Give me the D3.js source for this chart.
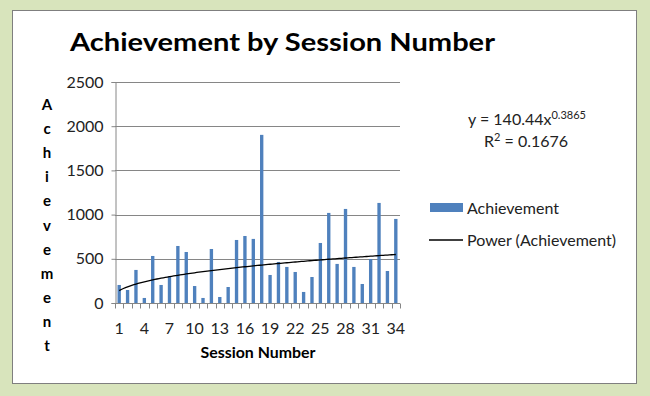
<!DOCTYPE html>
<html>
<head>
<meta charset="utf-8">
<script src="https://cdn.jsdelivr.net/npm/d3@7"></script>
<style>
  body { margin: 0; background: #d8e4bc; }
  svg { display: block; font-family: Lato, "Open Sans", sans-serif; }
</style>
</head>
<body>
<svg id="chart" width="650" height="396"></svg>
<script>
// Chart data
const sessions = d3.range(1, 35);
const achievement = [204, 147, 374, 57, 532, 204, 302, 645, 577, 192,
                     57, 611, 68, 181, 713, 758, 725, 1902, 317, 464,
                     408, 351, 125, 294, 679, 1019, 442, 1064, 408, 215,
                     498, 1132, 362, 951];
const yTicks = [0, 500, 1000, 1500, 2000, 2500];
const xTickLabels = [1, 4, 7, 10, 13, 16, 19, 22, 25, 28, 31, 34];

// Power trendline coefficients (as shown on chart)
const trendA = 140.44;
const trendB = 0.3865;
const rSquared = 0.1676;

const barColor = '#4f81bd';
const margin = { top: 82, right: 250, bottom: 93, left: 115 };
const width = 650, height = 396;

const svg = d3.select('#chart');

// Chart area panel
svg.append('rect')
    .attr('x', 12.5).attr('y', 10.5)
    .attr('width', 624).attr('height', 373)
    .attr('fill', '#fff')
    .attr('stroke', '#7f7f7f')
    .attr('stroke-width', 1);

const x = d3.scaleBand()
    .domain(sessions)
    .range([margin.left, width - margin.right])
    .paddingInner(0.6)
    .paddingOuter(0.3);

const y = d3.scaleLinear()
    .domain([0, 2500])
    .range([height - margin.bottom, margin.top]);

// Gridlines
svg.append('g')
    .selectAll('line')
    .data(yTicks.slice(1))
    .join('line')
    .attr('x1', margin.left).attr('x2', width - margin.right)
    .attr('y1', d => Math.round(y(d)) + 0.5)
    .attr('y2', d => Math.round(y(d)) + 0.5)
    .attr('stroke', '#868686');

// Bars
svg.append('g')
    .selectAll('rect')
    .data(achievement)
    .join('rect')
    .attr('x', (d, i) => x(sessions[i]))
    .attr('width', x.bandwidth())
    .attr('y', d => y(d))
    .attr('height', d => y(0) - y(d))
    .attr('fill', barColor);

// Trendline (power fit evaluated across sessions)
const cx = d => x(1) + x.bandwidth() / 2 + (d - 1) * x.step();
const line = d3.line()
    .x(cx)
    .y(d => y(trendA * Math.pow(d, trendB)));

svg.append('path')
    .datum(d3.range(1, 34.01, 0.25))
    .attr('fill', 'none')
    .attr('stroke', '#000')
    .attr('stroke-width', 1.3)
    .attr('d', line);

// Y axis
const yAxis = d3.axisLeft(y)
    .tickValues(yTicks)
    .tickFormat(d3.format('d'))
    .tickSize(4)
    .tickPadding(8);
const gy = svg.append('g')
    .attr('transform', `translate(${margin.left + 0.5},0)`)
    .call(yAxis);
gy.select('.domain').attr('stroke', '#868686');
gy.selectAll('.tick line').attr('stroke', '#868686');
gy.selectAll('.tick text')
    .attr('font-size', 16)
    .attr('font-family', 'Lato, sans-serif')
    .attr('fill', '#222');

// X axis: category boundary ticks
const x0 = Math.round(y(0)) + 0.5;
const xg = svg.append('g');
xg.append('line')
    .attr('x1', margin.left).attr('x2', width - margin.right)
    .attr('y1', x0).attr('y2', x0)
    .attr('stroke', '#868686');
xg.selectAll('.bound')
    .data(d3.range(0, sessions.length + 1))
    .join('line')
    .attr('class', 'bound')
    .attr('x1', i => Math.round(margin.left + i * x.step()) + 0.5)
    .attr('x2', i => Math.round(margin.left + i * x.step()) + 0.5)
    .attr('y1', x0).attr('y2', x0 + 5)
    .attr('stroke', '#868686');
xg.selectAll('.lbl')
    .data(xTickLabels)
    .join('text')
    .attr('class', 'lbl')
    .attr('x', d => x(d) + x.bandwidth() / 2)
    .attr('y', 334)
    .attr('text-anchor', 'middle')
    .attr('font-size', 16)
    .attr('fill', '#222')
    .text(d => d);

// Title
svg.append('text')
    .attr('x', 70).attr('y', 51)
    .attr('font-size', 25)
    .attr('font-weight', 'bold')
    .attr('textLength', 425)
    .attr('lengthAdjust', 'spacingAndGlyphs')
    .text('Achievement by Session Number');

// Axis titles
svg.append('text')
    .attr('x', 258).attr('y', 358)
    .attr('text-anchor', 'middle')
    .attr('font-size', 15)
    .attr('font-weight', 'bold')
    .attr('textLength', 115)
    .attr('lengthAdjust', 'spacingAndGlyphs')
    .text('Session Number');

svg.append('g')
    .selectAll('text')
    .data('Achievement'.split(''))
    .join('text')
    .attr('x', 47)
    .attr('y', (d, i) => 110 + i * 24.1)
    .attr('text-anchor', 'middle')
    .attr('font-size', 15)
    .attr('font-weight', 'bold')
    .text(d => d);

// Trendline equation
const eq = svg.append('text')
    .attr('x', 468).attr('y', 125)
    .attr('font-size', 16)
    .attr('fill', '#222');
eq.append('tspan').text(`y = ${trendA}x`);
eq.append('tspan').attr('dy', -6).attr('font-size', 11).text(trendB);

const r2 = svg.append('text')
    .attr('x', 484).attr('y', 147)
    .attr('font-size', 16)
    .attr('fill', '#222');
r2.append('tspan').text('R');
r2.append('tspan').attr('dy', -6).attr('font-size', 11).text('2');
r2.append('tspan').attr('dy', 6).text(` = ${rSquared}`);

// Legend
const legend = svg.append('g').attr('font-size', 16).attr('fill', '#222');
legend.append('rect')
    .attr('x', 430).attr('y', 203)
    .attr('width', 33).attr('height', 9)
    .attr('fill', barColor);
legend.append('text')
    .attr('x', 467).attr('y', 214)
    .text('Achievement');
legend.append('line')
    .attr('x1', 429).attr('x2', 463)
    .attr('y1', 240).attr('y2', 240)
    .attr('stroke', '#000')
    .attr('stroke-width', 1.3);
legend.append('text')
    .attr('x', 467).attr('y', 246)
    .text('Power (Achievement)');
</script>
</body>
</html>
